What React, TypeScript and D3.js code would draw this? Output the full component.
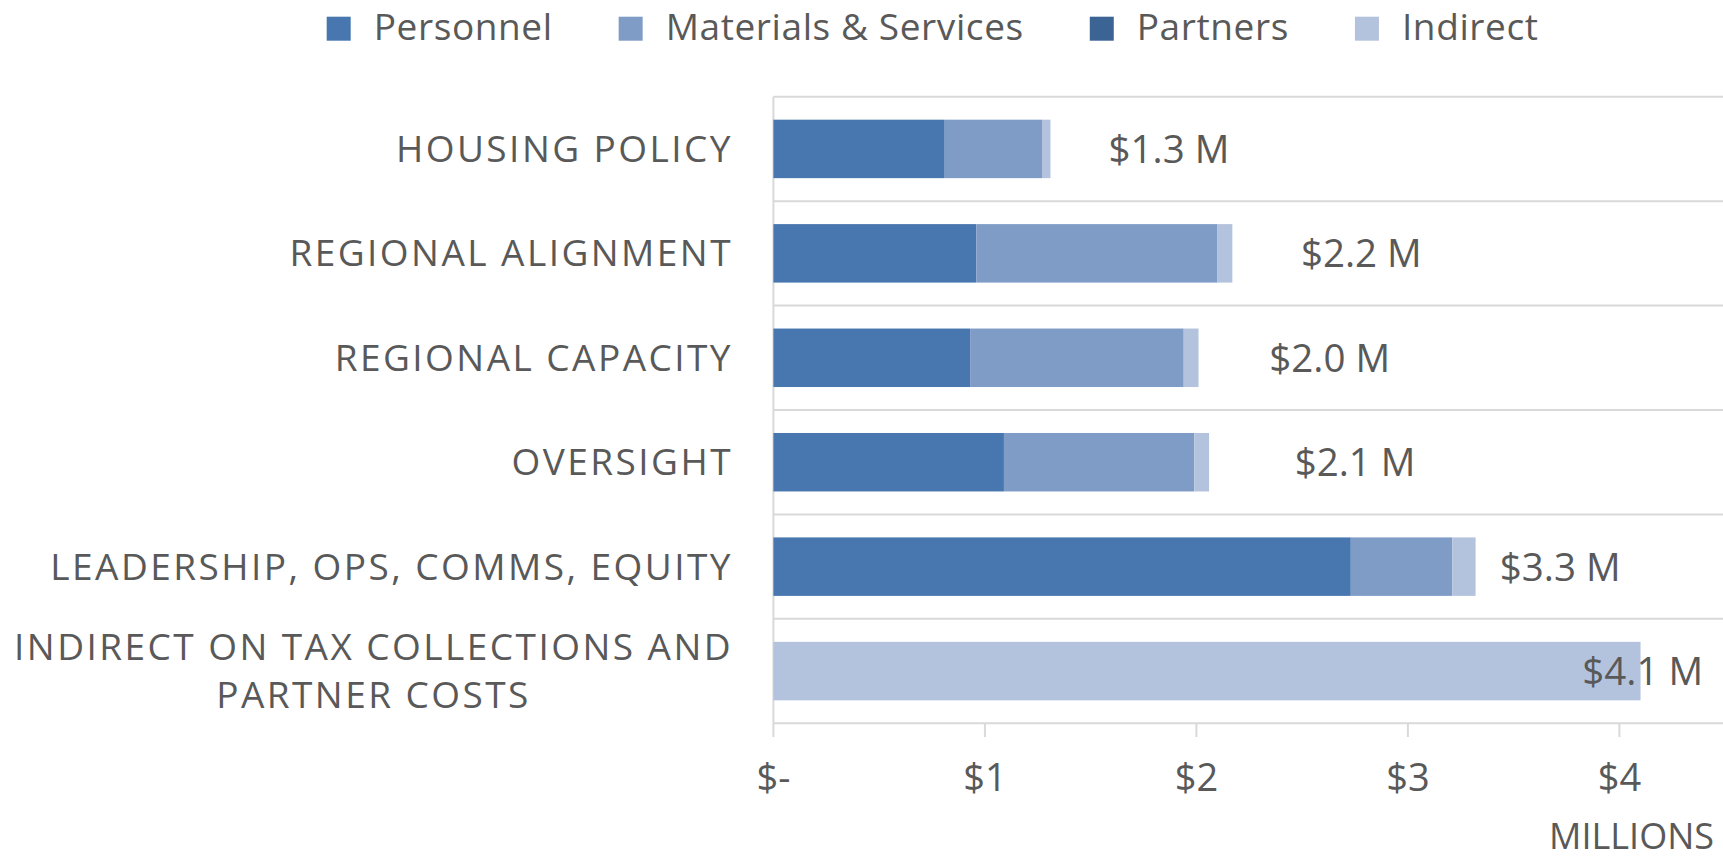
import React, { useEffect, useRef } from "react";
import * as d3 from "d3";

const categories = [
  "HOUSING POLICY",
  "REGIONAL ALIGNMENT",
  "REGIONAL CAPACITY",
  "OVERSIGHT",
  "LEADERSHIP, OPS, COMMS, EQUITY",
  "INDIRECT ON TAX COLLECTIONS AND|PARTNER COSTS",
];
const seriesNames = ["Personnel", "Materials & Services", "Partners", "Indirect"];
const personnel = [0.81, 0.96, 0.93, 1.09, 2.73, 0];
const materials = [0.46, 1.14, 1.01, 0.9, 0.48, 0];
const partners = [0, 0, 0, 0, 0, 0];
const indirect = [0.04, 0.07, 0.07, 0.07, 0.11, 4.1];
// position (in $M) where each total label is centred
const labelPos = [1.87, 2.78, 2.63, 2.75, 3.72, 4.11];
const tickValues = [0, 1, 2, 3, 4];
const tickLabels = ["$-", "$1", "$2", "$3", "$4"];
const axisTitle = "MILLIONS";

const colors = ["#4877AF", "#7F9CC7", "#3B6495", "#B4C3DD"];
const W = 1723;
const H = 860;
const FONT = "'Open Sans', sans-serif";
const TXT = "#595959";
const GRID = "#D9D9D9";

export default function App() {
  const ref = useRef<SVGSVGElement>(null);

  useEffect(() => {
    const svg = d3.select(ref.current);
    svg.selectAll("*").remove();

    const x0 = 773.4;
    const x = d3.scaleLinear().domain([0, 4.5]).range([x0, x0 + 4.5 * 211.5]);
    const y = d3
      .scaleBand<number>()
      .domain(d3.range(categories.length))
      .range([96.7, 723.3])
      .paddingInner(0.44)
      .paddingOuter(0.22);
    const step = y.step();

    const rows = categories.map((c, i) => ({
      i,
      Personnel: personnel[i],
      "Materials & Services": materials[i],
      Partners: partners[i],
      Indirect: indirect[i],
    }));
    const stack = d3.stack<any>().keys(seriesNames)(rows);

    // gridlines at band boundaries
    const g = svg.append("g");
    for (let k = 0; k <= categories.length; k++) {
      const yy = 96.7 + k * step;
      g.append("line")
        .attr("x1", x0)
        .attr("x2", W)
        .attr("y1", yy)
        .attr("y2", yy)
        .attr("stroke", GRID)
        .attr("stroke-width", 2);
    }
    // vertical axis line
    g.append("line")
      .attr("x1", x0)
      .attr("x2", x0)
      .attr("y1", 96.7)
      .attr("y2", 723.3)
      .attr("stroke", GRID)
      .attr("stroke-width", 2);

    // x axis ticks + labels
    tickValues.forEach((v, k) => {
      g.append("line")
        .attr("x1", x(v))
        .attr("x2", x(v))
        .attr("y1", 723.3)
        .attr("y2", 737)
        .attr("stroke", GRID)
        .attr("stroke-width", 2);
      g.append("text")
        .attr("x", x(v))
        .attr("y", 791)
        .attr("text-anchor", "middle")
        .attr("font-family", FONT)
        .attr("font-size", 38)
        .attr("fill", TXT)
        .text(tickLabels[k]);
    });
    g.append("text")
      .attr("x", 1714)
      .attr("y", 849)
      .attr("text-anchor", "end")
      .attr("font-family", FONT)
      .attr("font-size", 36)
      .attr("fill", TXT)
      .text(axisTitle);

    // bars
    stack.forEach((layer, si) => {
      svg
        .append("g")
        .selectAll("rect")
        .data(layer)
        .join("rect")
        .attr("x", (d: any) => x(d[0]))
        .attr("width", (d: any) => Math.max(0, x(d[1]) - x(d[0])))
        .attr("y", (d: any, i: number) => y(i)!)
        .attr("height", y.bandwidth())
        .attr("fill", colors[si]);
    });

    // total labels
    const totals = categories.map((_, i) => personnel[i] + materials[i] + partners[i] + indirect[i]);
    const fmt = d3.format(".1f");
    svg
      .append("g")
      .selectAll("text")
      .data(totals)
      .join("text")
      .attr("x", (d, i) => x(labelPos[i]))
      .attr("y", (d, i) => y(i)! + y.bandwidth() / 2 + 14)
      .attr("text-anchor", "middle")
      .attr("font-family", FONT)
      .attr("font-size", 38.5)
      .attr("fill", TXT)
      .text((d) => `$${fmt(d)} M`);

    // category labels
    const catG = svg.append("g");
    const rightEdge = 733;
    categories.forEach((c, i) => {
      const lines = c.split("|");
      const cy = y(i)! + y.bandwidth() / 2;
      const lh = 48.5;
      const t = catG
        .append("text")
        .attr("font-family", FONT)
        .attr("font-size", 37)
        .attr("letter-spacing", 2.45)
        .attr("fill", TXT);
      const tspans = lines.map((ln, li) =>
        t
          .append("tspan")
          .attr("y", cy + (li - (lines.length - 1) / 2) * lh + 13)
          .text(ln)
      );
      const widths = tspans.map((ts) => (ts.node() as SVGTSpanElement).getComputedTextLength());
      const maxW = d3.max(widths) || 0;
      tspans.forEach((ts) => ts.attr("x", rightEdge - maxW / 2).attr("text-anchor", "middle"));
    });

    // legend
    const lg = svg.append("g");
    let lx = 326.7;
    seriesNames.forEach((name, si) => {
      lg.append("rect")
        .attr("x", lx)
        .attr("y", 16.7)
        .attr("width", 24)
        .attr("height", 24)
        .attr("fill", colors[si]);
      const t = lg
        .append("text")
        .attr("x", lx + 47)
        .attr("y", 40)
        .attr("font-family", FONT)
        .attr("font-size", 37)
        .attr("letter-spacing", 0.6)
        .attr("fill", TXT)
        .text(name);
      const w = (t.node() as SVGTextElement).getComputedTextLength();
      lx = lx + 47 + w + 66;
    });
  }, []);

  return (
    <svg
      ref={ref}
      width={W}
      height={H}
      style={{ position: "absolute", left: 0, top: 0, display: "block", background: "#fff" }}
    />
  );
}
